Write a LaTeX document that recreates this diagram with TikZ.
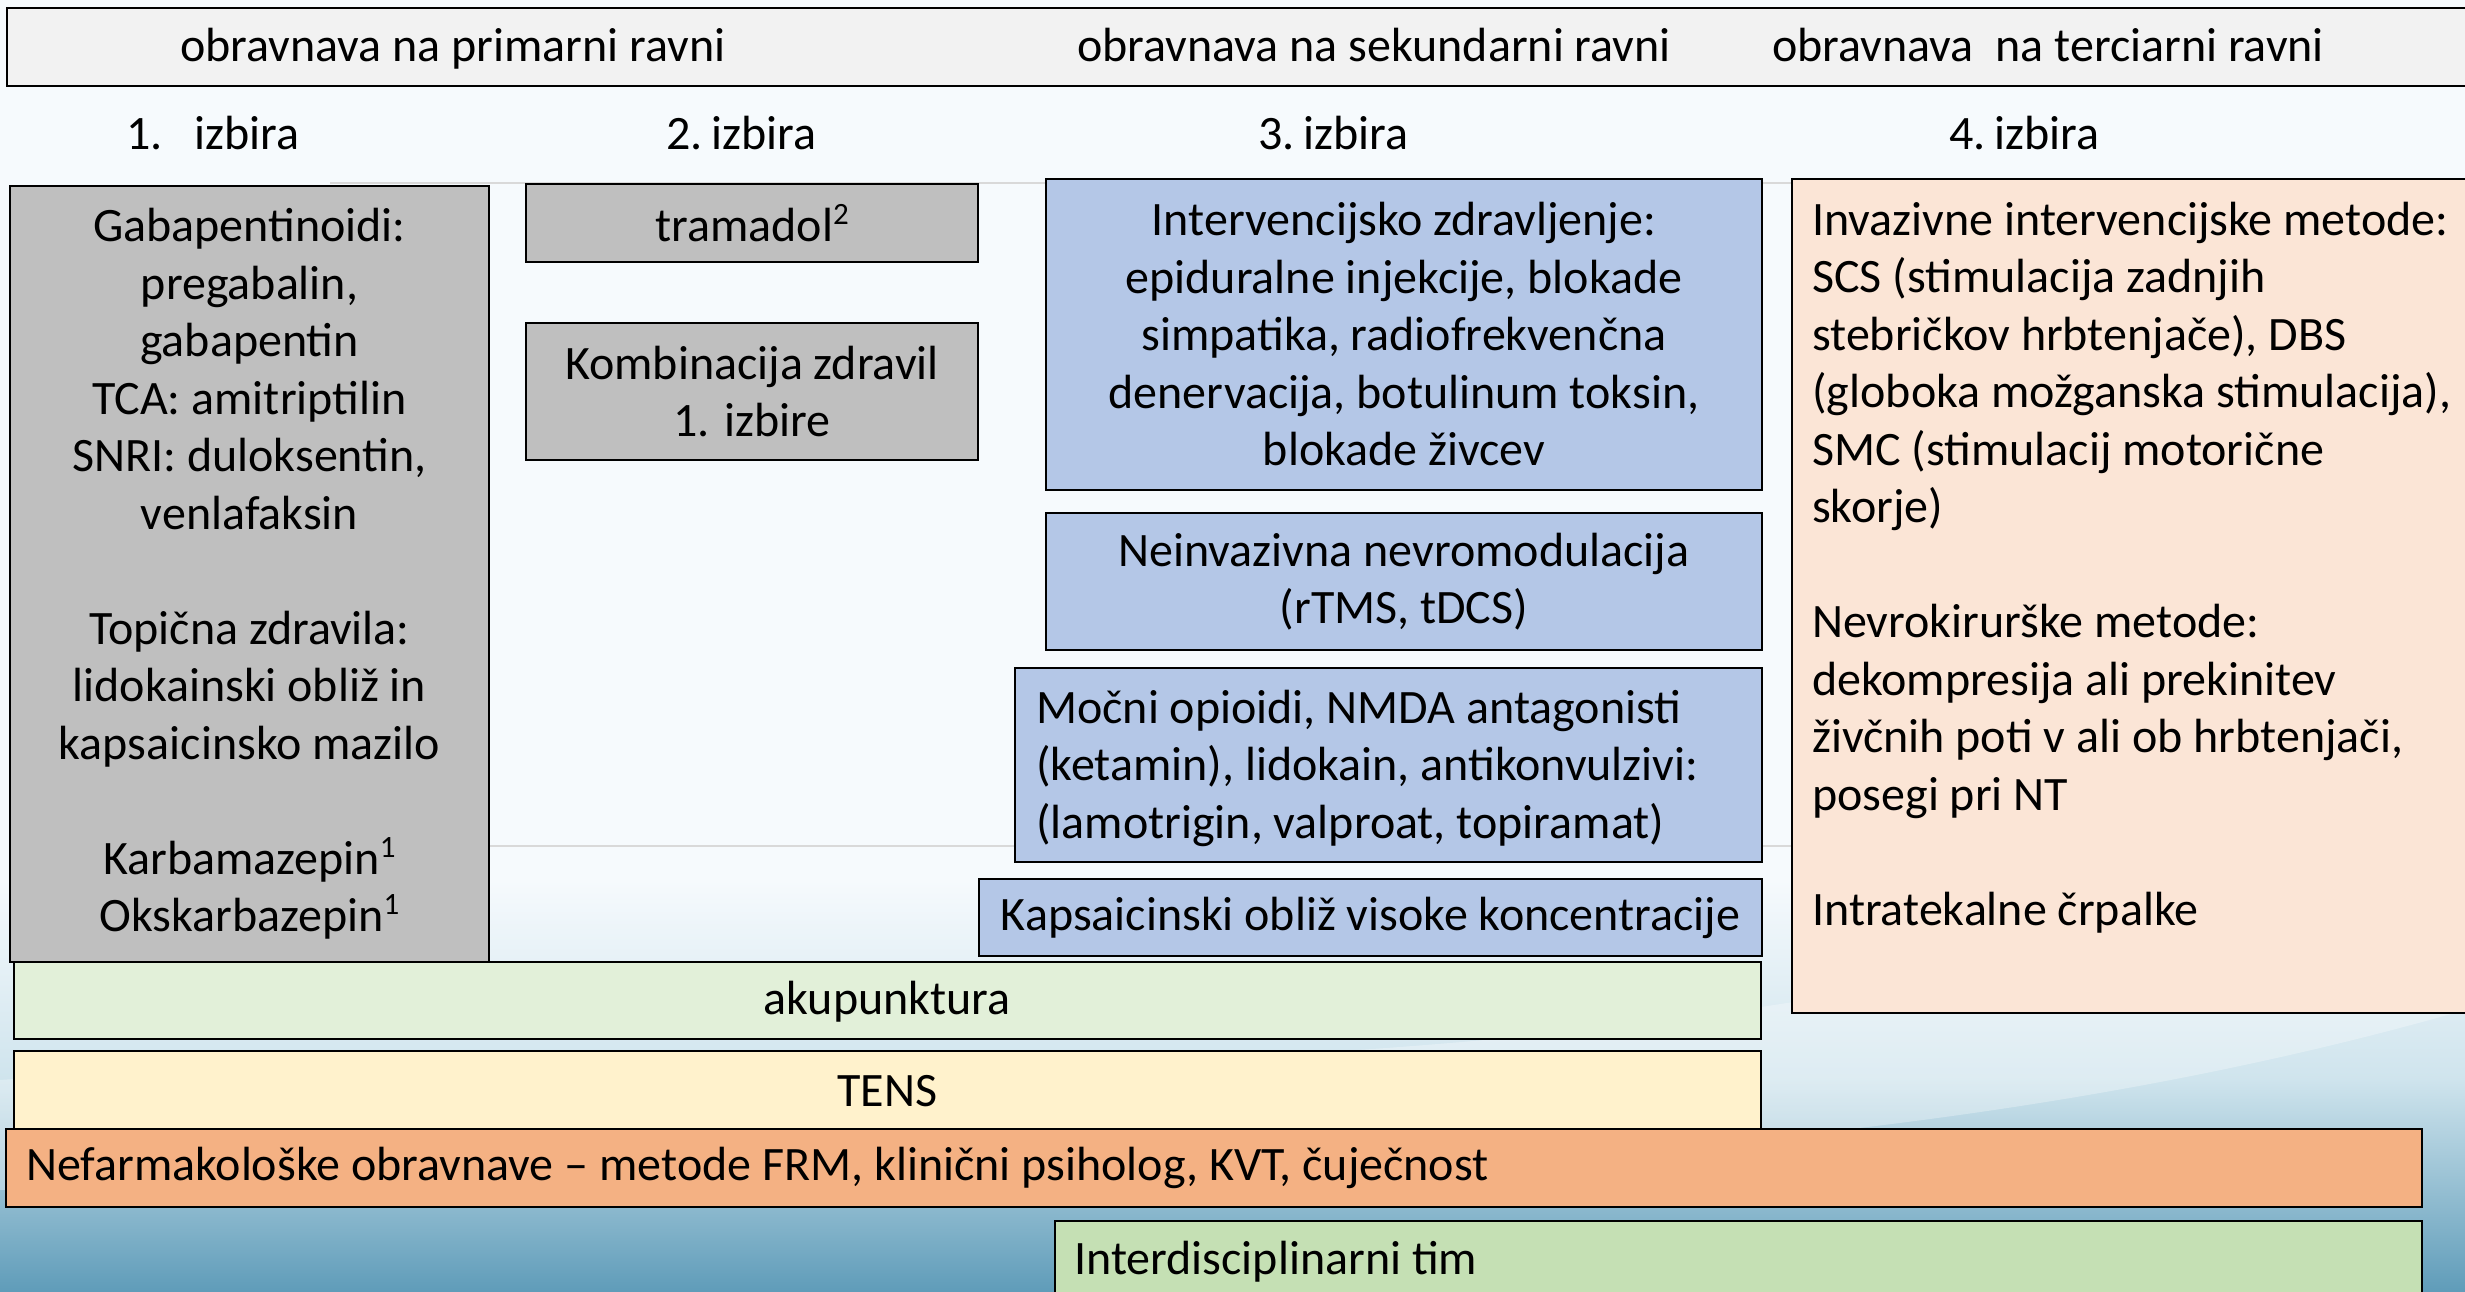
\documentclass[tikz,border=0pt]{standalone}
\usepackage{fontspec}
\setmainfont{Carlito}
\definecolor{bgtop}{HTML}{F6FAFD}
\definecolor{bgmid}{HTML}{CFE4ED}
\definecolor{bgbot}{HTML}{5F9CB9}
\definecolor{barfill}{HTML}{F2F2F2}
\definecolor{grayfill}{HTML}{BFBFBF}
\definecolor{bluefill}{HTML}{B4C7E7}
\definecolor{peachfill}{HTML}{FBE5D6}
\definecolor{lgreenfill}{HTML}{E2F0D9}
\definecolor{yellowfill}{HTML}{FFF2CC}
\definecolor{orangefill}{HTML}{F4B183}
\definecolor{greenfill}{HTML}{C5E0B4}
\definecolor{faint}{HTML}{D9D9D9}
\newcommand{\supnum}[1]{\raisebox{0.36em}{\fontsize{31}{31}\selectfont #1}}
\begin{document}
\begin{tikzpicture}[x=1pt,y=-1pt,
  box/.style={draw=black, line width=2pt, inner sep=0pt, anchor=north west},
  txt/.style={font=\fontsize{48}{57.5}\selectfont, inner sep=0pt, text=black}]
\useasboundingbox (0,0) rectangle (2465,1292);
\clip (0,0) rectangle (2465,1292);
% background
\fill[bgtop] (0,0) rectangle (2465,1292);
\shade[top color=bgtop, bottom color=bgmid] (0,880) rectangle (2465,1080);
\shade[top color=bgmid, bottom color=bgbot] (0,1079) rectangle (2465,1292);
\fill[white, opacity=0.3] (0,1080) .. controls (700,1030) and (1500,1160) .. (2465,840) -- (2465,1010) .. controls (1700,1230) and (800,1160) .. (0,1190) -- cycle;
% faint table lines
\draw[faint, line width=1.5pt] (330,183) -- (1792,183);
\draw[faint, line width=1.5pt] (487,846) -- (1792,846);
% header bar
\node[box, fill=barfill, minimum width=2470pt, minimum height=78pt] (bar) at (6,7) {};
\node[txt, anchor=base west] (h1) at (180,62) {obravnava na primarni ravni};
\node[txt, anchor=base west] (h2) at (1077,62) {obravnava na sekundarni ravni};
\node[txt, anchor=base west] (h3) at (1772,62) {obravnava\ \ na terciarni ravni};
% choices
\node[txt, anchor=base west] (c1) at (126,150) {1.\hspace{31.6pt}izbira};
\node[txt, anchor=base west] (c2) at (666,150) {2.\hspace{9pt}izbira};
\node[txt, anchor=base west] (c3) at (1258,150) {3.\hspace{9pt}izbira};
\node[txt, anchor=base west] (c4) at (1949,150) {4.\hspace{9pt}izbira};
% column 1
\node[box, txt, fill=grayfill, minimum width=479pt, minimum height=776pt, align=center] (gaba) at (9,185)
 {Gabapentinoidi:\\pregabalin,\\gabapentin\\TCA: amitriptilin\\SNRI: duloksentin,\\venlafaksin\\[57.5pt]Topična zdravila:\\lidokainski obliž in\\kapsaicinsko mazilo\\[57.5pt]Karbamazepin\supnum{1}\\Okskarbazepin\supnum{1}};
% column 2
\node[box, txt, fill=grayfill, minimum width=452pt, minimum height=78pt, align=center] (tram) at (525,183) {tramadol\supnum{2}};
\node[box, txt, fill=grayfill, minimum width=452pt, minimum height=137pt, align=center] (komb) at (525,322) {Kombinacija zdravil\\1. izbire};
% column 3
\node[box, txt, fill=bluefill, minimum width=716pt, minimum height=311pt, align=center] (interv) at (1045,178)
 {Intervencijsko zdravljenje:\\epiduralne injekcije, blokade\\simpatika, radiofrekvenčna\\denervacija, botulinum toksin,\\blokade živcev};
\node[box, txt, fill=bluefill, minimum width=716pt, minimum height=137pt, align=center] (neinv) at (1045,512)
 {Neinvazivna nevromodulacija\\(rTMS, tDCS)};
\node[box, fill=bluefill, minimum width=747pt, minimum height=194pt] (mocni) at (1014,667) {};
\node[txt, anchor=west, align=left] (mocnit) at (1036,768)
 {Močni opioidi, NMDA antagonisti\\(ketamin), lidokain, antikonvulzivi:\\(lamotrigin, valproat, topiramat)};
\node[box, txt, fill=bluefill, minimum width=783pt, minimum height=77pt, align=center] (kaps) at (978,878)
 {Kapsaicinski obliž visoke koncentracije};
% column 4
\node[box, fill=peachfill, minimum width=700pt, minimum height=834pt] (inv) at (1791,178) {};
\node[txt, anchor=north west, align=left] (invt) at (1812,195)
 {\strut Invazivne intervencijske metode:\\SCS (stimulacija zadnjih\\stebričkov hrbtenjače), DBS\\(globoka možganska stimulacija),\\SMC (stimulacij motorične\\skorje)\\[57.5pt]Nevrokirurške metode:\\dekompresija ali prekinitev\\živčnih poti v ali ob hrbtenjači,\\posegi pri NT\\[57.5pt]Intratekalne črpalke};
% bottom bars
\node[box, fill=lgreenfill, minimum width=1747pt, minimum height=77pt] (aku) at (13,961) {};
\node[txt] (akut) at (887,1002) {akupunktura};
\node[box, txt, fill=yellowfill, minimum width=1747pt, minimum height=80pt, align=center] (tens) at (13,1050) {TENS};
\node[box, fill=orangefill, minimum width=2416pt, minimum height=78pt] (nefarm) at (5,1128) {};
\node[txt, anchor=west] (nefarmt) at (26,1168) {Nefarmakološke obravnave – metode FRM, klinični psiholog, KVT, čuječnost};
\node[box, fill=greenfill, minimum width=1367pt, minimum height=100pt] (tim) at (1054,1220) {};
\node[txt, anchor=west] (timt) at (1074,1262) {Interdisciplinarni tim};
\end{tikzpicture}
\end{document}
